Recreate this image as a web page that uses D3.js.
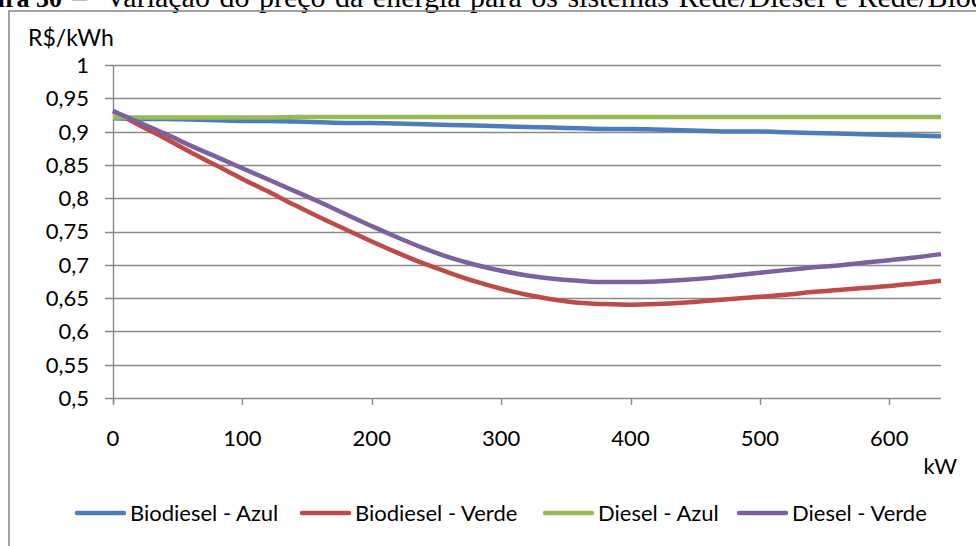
<!DOCTYPE html>
<html><head><meta charset="utf-8">
<script src="https://cdn.jsdelivr.net/npm/d3@7/dist/d3.min.js"></script>
<style>
html,body{margin:0;padding:0;background:#fff;overflow:hidden}
svg{display:block}
</style></head>
<body>
<svg id="c" width="976" height="546"></svg>
<script>
// ---- data ----
const kw = [0,20,40,60,80,100,120,140,160,180,200,220,240,260,280,300,320,340,360,380,400,420,440,460,480,500,520,540,560,580,600,620,640];
const biodieselAzul = [0.920,0.919,0.919,0.918,0.917,0.916,0.916,0.915,0.914,0.913,0.913,0.912,0.911,0.910,0.909,0.908,0.907,0.906,0.905,0.904,0.904,0.903,0.902,0.901,0.900,0.900,0.899,0.898,0.897,0.896,0.895,0.894,0.893];
const biodieselVerde = [0.931,0.910,0.890,0.869,0.849,0.829,0.810,0.790,0.771,0.753,0.735,0.718,0.702,0.688,0.675,0.664,0.655,0.648,0.643,0.641,0.640,0.641,0.643,0.646,0.649,0.652,0.655,0.659,0.662,0.665,0.668,0.672,0.676];
const dieselAzul = [0.921,0.921,0.921,0.921,0.921,0.921,0.921,0.922,0.922,0.922,0.922,0.922,0.922,0.922,0.922,0.922,0.922,0.922,0.922,0.922,0.922,0.922,0.922,0.922,0.922,0.922,0.922,0.922,0.922,0.922,0.922,0.922,0.922];
const dieselVerde = [0.931,0.914,0.897,0.879,0.862,0.845,0.828,0.811,0.794,0.776,0.758,0.741,0.725,0.711,0.700,0.691,0.684,0.679,0.676,0.674,0.674,0.675,0.677,0.680,0.684,0.688,0.692,0.696,0.699,0.703,0.707,0.711,0.716];
const seriesNames = ["Biodiesel - Azul","Biodiesel - Verde","Diesel - Azul","Diesel - Verde"];
const seriesColors = ["#4a7ebb","#be4b48","#98b954","#7d60a0"];
const yTicks = [0.5,0.55,0.6,0.65,0.7,0.75,0.8,0.85,0.9,0.95,1];
const xTicks = [0,100,200,300,400,500,600];
const yTitle = "R$/kWh";
const xTitle = "kW";
const captionBold = "Figura 30";
const captionDash = "–";
const captionText = "Variação do preço da energia para os sistemas Rede/Diesel e Rede/Biodiesel";

const series = [biodieselAzul, biodieselVerde, dieselAzul, dieselVerde];

const svg = d3.select("#c");
const font = "Lato, 'Open Sans', sans-serif";
const fs = 22;
const gray = "#8a8a8a";
const serif = "'Liberation Serif', 'Times New Roman', serif";

// caption (clipped at top, as in the reference)
svg.append("text").attr("x",62).attr("y",7).attr("text-anchor","end")
  .attr("font-family",serif).attr("font-size",26)
  .attr("font-weight","bold").attr("fill","#000").text(captionBold);
svg.append("text").attr("x",72).attr("y",7)
  .attr("font-family",serif).attr("font-size",30)
  .attr("fill","#000").text(captionDash);
svg.append("text").attr("x",105).attr("y",7)
  .attr("font-family",serif).attr("font-size",30).attr("word-spacing",2)
  .attr("fill","#000").text(captionText);

// chart border
svg.append("rect").attr("x",9).attr("y",11).attr("width",1200).attr("height",800)
  .attr("fill","none").attr("stroke",gray).attr("stroke-width",1.6);

const x = d3.scaleLinear().domain([0,640]).range([113,941]);
const y = d3.scaleLinear().domain([0.5,1]).range([398,65]);
const fmt = d3.formatLocale({decimal:",",thousands:".",grouping:[3],currency:["R$",""]}).format("~g");

// gridlines + y ticks
const gy = svg.append("g");
gy.selectAll("line").data(yTicks).join("line")
  .attr("x1",105).attr("x2",941)
  .attr("y1",d=>Math.round(y(d))+0.5).attr("y2",d=>Math.round(y(d))+0.5)
  .attr("stroke",gray).attr("stroke-width",1.4);
gy.selectAll("text").data(yTicks).join("text")
  .attr("x",89).attr("y",d=>y(d)).attr("dy","0.36em").attr("text-anchor","end")
  .attr("font-family",font).attr("font-size",fs).attr("fill","#000")
  .text(d=>fmt(d));

// y axis line
svg.append("line").attr("x1",113.5).attr("x2",113.5).attr("y1",65).attr("y2",404)
  .attr("stroke",gray).attr("stroke-width",1.4);

// x ticks
const gx = svg.append("g");
gx.selectAll("line").data(xTicks).join("line")
  .attr("x1",d=>Math.round(x(d))+0.5).attr("x2",d=>Math.round(x(d))+0.5)
  .attr("y1",398).attr("y2",405).attr("stroke",gray).attr("stroke-width",1.4);
gx.selectAll("text").data(xTicks).join("text")
  .attr("x",d=>x(d)).attr("y",438).attr("dy","0.36em").attr("text-anchor","middle")
  .attr("font-family",font).attr("font-size",fs).attr("fill","#000")
  .text(d=>d);

// titles
svg.append("text").attr("x",28).attr("y",38).attr("dy","0.36em")
  .attr("font-family",font).attr("font-size",23).attr("fill","#000").text(yTitle);
svg.append("text").attr("x",957).attr("y",466).attr("dy","0.36em").attr("text-anchor","end")
  .attr("font-family",font).attr("font-size",fs).attr("fill","#000").text(xTitle);

// lines
const line = d3.line().x((d,i)=>x(kw[i])).y(d=>y(d)).curve(d3.curveMonotoneX);
svg.append("g").selectAll("path").data(series).join("path")
  .attr("d",d=>line(d)).attr("fill","none")
  .attr("stroke",(d,i)=>seriesColors[i]).attr("stroke-width",4.5)
  .attr("stroke-linejoin","round");

// legend
const legX = [75,300,543,737];
const lg = svg.append("g");
seriesNames.forEach((n,i)=>{
  lg.append("line").attr("x1",legX[i]+2).attr("x2",legX[i]+49).attr("y1",513).attr("y2",513)
    .attr("stroke",seriesColors[i]).attr("stroke-width",4.5).attr("stroke-linecap","round");
  lg.append("text").attr("x",legX[i]+55).attr("y",513).attr("dy","0.36em")
    .attr("font-family",font).attr("font-size",fs).attr("fill","#000").text(n);
});
</script>
</body></html>
